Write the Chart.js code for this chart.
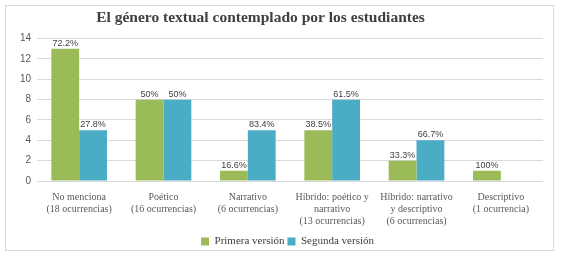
<!DOCTYPE html>
<html>
<head>
<meta charset="utf-8">
<script src="https://cdn.jsdelivr.net/npm/chart.js@4"></script>
<style>
  body { margin: 0; background: #fff; }
  #frame { position: absolute; left: 5px; top: 5px; width: 547px; height: 244px; border: 1px solid #d9d9d9; }
  #wrap { position: absolute; left: 0; top: 0; width: 564px; height: 254px; }
</style>
</head>
<body>
<div id="frame"></div>
<div id="wrap"><canvas id="chart" width="564" height="254"></canvas></div>
<script>
// Chart data
const categories = [
    ['No menciona', '(18 ocurrencias)'],
    ['Poético', '(16 ocurrencias)'],
    ['Narrativo', '(6 ocurrencias)'],
    ['Híbrido: poético y', 'narrativo', '(13 ocurrencias)'],
    ['Híbrido: narrativo', 'y descriptivo', '(6 ocurrencias)'],
    ['Descriptivo', '(1 ocurrencia)']
];
const primeraValues = [13, 8, 1, 5, 2, 1];
const segundaValues = [5, 8, 5, 8, 4, 0];
const primeraLabels = ['72.2%', '50%', '16.6%', '38.5%', '33.3%', '100%'];
const segundaLabels = ['27.8%', '50%', '83.4%', '61.5%', '66.7%', ''];

const serif = "'Liberation Serif', serif";
const sans = "'Liberation Sans', sans-serif";

// Draw the percentage above each bar
const barLabels = {
    id: 'barLabels',
    afterDatasetsDraw(chart) {
        const ctx = chart.ctx;
        ctx.save();
        ctx.font = '9px ' + sans;
        ctx.fillStyle = '#404040';
        ctx.textAlign = 'center';
        ctx.textBaseline = 'bottom';
        chart.data.datasets.forEach((ds, di) => {
            const meta = chart.getDatasetMeta(di);
            meta.data.forEach((bar, i) => {
                const text = ds.pctLabels[i];
                if (!text) return;
                ctx.fillText(text, bar.x, bar.y - 1);
            });
        });
        ctx.restore();
    }
};

// Title sits a bit left of center, legend a bit right and lower
const nudgeBoxes = {
    id: 'nudgeBoxes',
    afterLayout(chart) {
        if (chart.titleBlock) {
            chart.titleBlock.left -= 11;
            chart.titleBlock.right -= 11;
        }
        if (chart.legend) {
            chart.legend.left += 16;
            chart.legend.right += 16;
            chart.legend.top += 3;
            chart.legend.bottom += 3;
        }
    }
};

new Chart(document.getElementById('chart'), {
    type: 'bar',
    data: {
        labels: categories,
        datasets: [
            {
                label: 'Primera versión',
                data: primeraValues,
                pctLabels: primeraLabels,
                backgroundColor: '#9bbb59',
                borderWidth: 0
            },
            {
                label: 'Segunda versión',
                data: segundaValues,
                pctLabels: segundaLabels,
                backgroundColor: '#4bacc6',
                borderWidth: 0
            }
        ]
    },
    options: {
        responsive: false,
        animation: false,
        layout: { padding: { top: 4, right: 21, bottom: 0, left: 0 } },
        plugins: {
            title: {
                display: true,
                text: 'El género textual contemplado por los estudiantes',
                color: '#404040',
                font: { family: serif, size: 15.5, weight: 'bold' },
                padding: { top: 5, bottom: 11 }
            },
            legend: {
                position: 'bottom',
                labels: {
                    boxWidth: 8,
                    boxHeight: 8,
                    padding: 3,
                    color: '#404040',
                    font: { family: serif, size: 11 }
                }
            },
            tooltip: { enabled: false }
        },
        datasets: {
            bar: { categoryPercentage: 0.66, barPercentage: 1.0 }
        },
        scales: {
            x: {
                grid: { display: false },
                border: { display: false },
                ticks: {
                    color: '#595959',
                    font: { family: serif, size: 10, lineHeight: 1.2 },
                    maxRotation: 0,
                    autoSkip: false,
                    padding: 2
                },
                afterFit(scale) { scale.height = 49; }
            },
            y: {
                min: 0,
                max: 14,
                ticks: {
                    stepSize: 2,
                    color: '#595959',
                    font: { family: sans, size: 10 },
                    padding: 6
                },
                grid: { color: '#d9d9d9', drawTicks: false },
                border: { display: false },
                afterFit(scale) { scale.width = 37; }
            }
        }
    },
    plugins: [barLabels, nudgeBoxes]
});
</script>
</body>
</html>
